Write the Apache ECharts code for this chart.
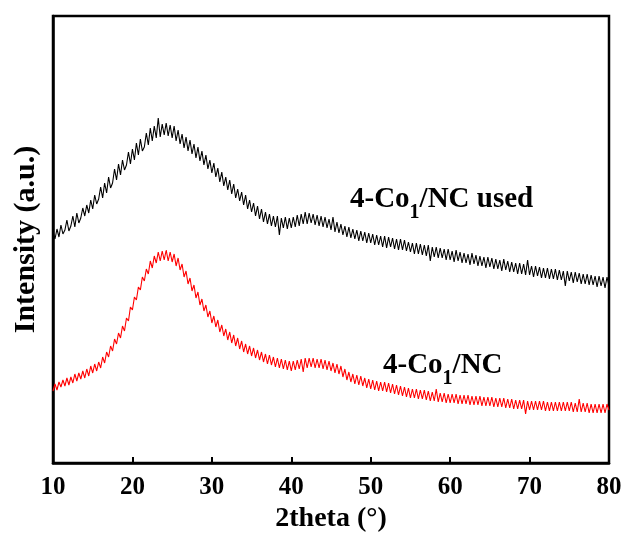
<!DOCTYPE html>
<html><head><meta charset="utf-8">
<script src="https://cdn.jsdelivr.net/npm/echarts@6/dist/echarts.min.js"></script>
<style>html,body{margin:0;padding:0;background:#fff}#c{width:627px;height:534px}</style>
</head><body><div id="c"></div>
<script>
// 2theta from 10 to 80 in 0.25 degree steps (281 points)
const twoTheta = [];
for (let i = 0; i <= 280; i++) twoTheta.push(10 + i * 0.25);
const xTicks = [10, 20, 30, 40, 50, 60, 70, 80];
const usedIntensity = [
231,224,234,226, 238,229,233,243, 232,237,247,236, 250,240,245,255, 247,258,250,263,
254,268,259,264, 276,265,280,270, 286,275,280,294, 283,299,288,303, 293,298,311,299,
314,303,320,308, 324,312,316,330, 318,335,322,337, 325,345,326,339, 328,340,327,338,
325,337,322,333, 319,329,315,326, 312,323,309,319, 305,316,302,312, 298,308,294,303,
290,300,286,295, 281,291,277,286, 273,283,269,279, 265,274,262,271, 258,268,254,263,
251,260,247,257, 244,254,241,251, 239,249,237,247, 236,247,228,245, 235,246,234,245,
235,246,236,248, 237,249,239,251, 239,250,240,249, 238,248,237,247, 236,246,235,244,
233,246,231,241, 230,239,228,237, 226,236,225,234, 224,233,222,232, 222,231,220,230,
220,229,218,228, 218,227,216,227, 215,226,216,225, 214,224,213,224, 213,223,212,221,
211,220,209,220, 209,219,208,218, 207,218,202,216, 206,216,205,215, 205,214,203,214,
203,212,201,213, 202,211,200,210, 200,209,198,210, 199,208,197,207, 197,206,195,206,
196,205,194,204, 194,203,192,204, 193,202,191,201, 191,200,189,200, 189,199,188,203,
188,197,186,197, 187,196,185,195, 185,195,184,194, 184,194,183,193, 183,192,177,192,
182,191,180,191, 181,190,179,189, 179,189,178,188, 178,187,176,187, 177,186,175,186,
177];
const freshIntensity = [
72,79,73,81, 76,83,77,85, 78,86,80,89, 82,90,84,92, 85,94,87,97,
90,99,92,101, 95,106,100,111, 106,117,112,124, 119,130,125,137, 132,145,142,156,
153,166,163,176, 173,186,182,194, 189,202,195,207, 200,211,202,212, 203,213,202,211,
201,209,197,205, 193,199,186,192, 179,185,172,178, 165,171,158,164, 152,158,146,152,
140,147,136,143, 131,138,127,134, 123,131,120,128, 117,125,114,122, 111,119,109,117,
107,115,105,113, 103,111,101,109, 99,108,98,106, 96,105,95,104, 94,103,93,102,
92,102,93,103, 94,104,91,105, 95,105,96,105, 95,104,95,104, 94,103,93,102,
92,100,90,99, 89,97,86,94, 83,91,81,89, 79,88,78,87, 77,85,75,84,
74,83,73,82, 72,81,72,81, 71,80,70,79, 69,78,68,77, 67,76,66,75,
65,74,65,74, 64,73,64,73, 63,72,62,71, 62,74,61,70, 61,70,60,69,
60,69,60,69, 59,68,59,68, 59,68,58,67, 58,67,58,67, 57,66,57,66,
57,66,56,65, 56,65,56,65, 55,64,55,64, 54,63,54,63, 54,63,49,62,
53,62,53,62, 53,62,53,62, 52,61,52,61, 52,61,52,61, 52,61,52,61,
52,61,51,60, 51,64,51,60, 51,60,50,59, 50,59,50,59, 50,59,50,59,
53];
const seriesNames = ['4-Co1/NC used', '4-Co1/NC'];

const pair = (ys) => ys.map((y, i) => [twoTheta[i], y]);
const font = 'Liberation Serif';
const richStyle = (color) => ({
  n: {fontFamily: font, fontWeight: 'bold', fontSize: 29, lineHeight: 30, color: color},
  s: {fontFamily: font, fontWeight: 'bold', fontSize: 20, height: 5, lineHeight: 5, verticalAlign: 'bottom', color: color}
});
const chart = echarts.init(document.getElementById('c'), null, {renderer: 'canvas'});
chart.setOption({
  animation: false,
  backgroundColor: '#fff',
  grid: {left: 53, right: 18, top: 16, bottom: 71, outerBoundsMode: 'none', containLabel: false, show: true, borderColor: '#000', borderWidth: 2.5, backgroundColor: 'transparent'},
  xAxis: {
    type: 'value', min: 10, max: 80, interval: 10,
    axisLine: {show: true, lineStyle: {color: '#000', width: 2.5}},
    axisTick: {show: true, inside: true, length: 6, lineStyle: {color: '#000', width: 2}, customValues: xTicks},
    axisLabel: {color: '#000', fontFamily: font, fontWeight: 'bold', fontSize: 25, margin: 12, customValues: xTicks},
    splitLine: {show: false},
    name: '2theta (°)', nameLocation: 'middle', nameGap: 39,
    nameTextStyle: {color: '#000', fontFamily: font, fontWeight: 'bold', fontSize: 28}
  },
  yAxis: {
    type: 'value', min: 0, max: 447,
    axisLine: {show: true, lineStyle: {color: '#000', width: 2.5}},
    axisTick: {show: false}, axisLabel: {show: false}, splitLine: {show: false},
    name: 'Intensity (a.u.)', nameLocation: 'middle', nameGap: 12,
    nameTextStyle: {color: '#000', fontFamily: font, fontWeight: 'bold', fontSize: 30}
  },
  series: [
    {name: seriesNames[0], type: 'line', data: pair(usedIntensity), showSymbol: false, lineStyle: {color: '#000', width: 1.1}, z: 3},
    {name: seriesNames[1], type: 'line', data: pair(freshIntensity), showSymbol: false, lineStyle: {color: '#ff0000', width: 1.1}, z: 3}
  ],
  graphic: [
    {type: 'text', x: 350, y: 200, style: {text: '{n|4-Co}{s|1}{n|/NC used}', verticalAlign: 'middle', rich: richStyle('#000')}},
    {type: 'text', x: 383, y: 366, style: {text: '{n|4-Co}{s|1}{n|/NC}', verticalAlign: 'middle', rich: richStyle('#ff0000')}}
  ]
});
</script></body></html>
